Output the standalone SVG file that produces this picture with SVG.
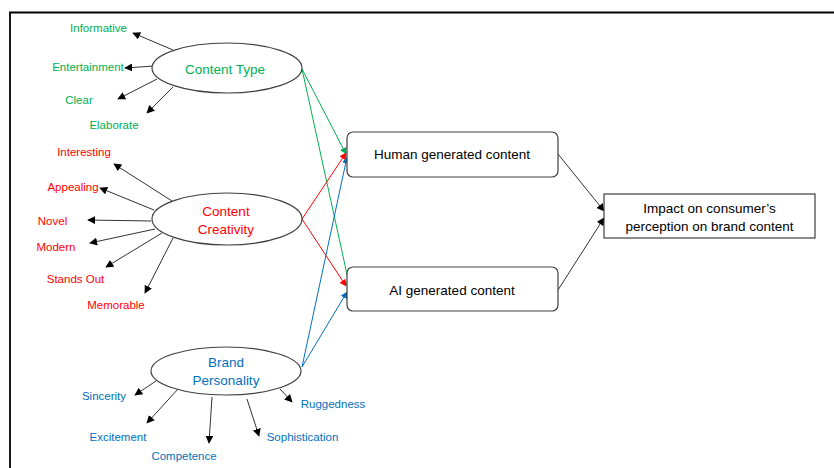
<svg xmlns="http://www.w3.org/2000/svg" width="834" height="468" viewBox="0 0 834 468">
<defs>
<marker id="ab" viewBox="0 0 10 10" refX="9" refY="5" markerWidth="8" markerHeight="8" markerUnits="userSpaceOnUse" orient="auto"><path d="M0,0 L10,5 L0,10 z" fill="#000"/></marker>
<marker id="ag" viewBox="0 0 10 10" refX="9" refY="5" markerWidth="7" markerHeight="7" markerUnits="userSpaceOnUse" orient="auto"><path d="M0,0 L10,5 L0,10 z" fill="#00B050"/></marker>
<marker id="ar" viewBox="0 0 10 10" refX="9" refY="5" markerWidth="7" markerHeight="7" markerUnits="userSpaceOnUse" orient="auto"><path d="M0,0 L10,5 L0,10 z" fill="#FF0000"/></marker>
<marker id="abl" viewBox="0 0 10 10" refX="9" refY="5" markerWidth="7" markerHeight="7" markerUnits="userSpaceOnUse" orient="auto"><path d="M0,0 L10,5 L0,10 z" fill="#0070C0"/></marker>
</defs>
<style>
text{font-family:"Liberation Sans",Arial,sans-serif;text-anchor:middle}
.s{font-size:11.5px}
.m{font-size:13.5px}
.g{fill:#00B050}.r{fill:#FF0000}.b{fill:#0070C0}.k{fill:#000}
.el{fill:#fff;stroke:#404040;stroke-width:1.2}
.bx{fill:#fff;stroke:#404040;stroke-width:1.2}
.blk{stroke:#333;stroke-width:1;fill:none;marker-end:url(#ab)}
.gl{stroke:#00B050;stroke-width:1;fill:none;marker-end:url(#ag)}
.rl{stroke:#FF0000;stroke-width:1;fill:none;marker-end:url(#ar)}
.bl{stroke:#0070C0;stroke-width:1;fill:none;marker-end:url(#abl)}
</style>
<rect width="834" height="468" fill="#fff"/>
<path d="M10,468 V12.5 H834" fill="none" stroke="#000" stroke-width="1.8"/>
<g id="connectors">
<line class="blk" x1="173" y1="50" x2="133" y2="33"/>
<line class="blk" x1="154" y1="66" x2="125" y2="68"/>
<line class="blk" x1="157" y1="79" x2="118" y2="99"/>
<line class="blk" x1="173" y1="87" x2="147" y2="113"/>
<line class="blk" x1="172" y1="201" x2="114" y2="164"/>
<line class="blk" x1="154" y1="210" x2="100" y2="188"/>
<line class="blk" x1="151" y1="221" x2="88" y2="220"/>
<line class="blk" x1="155" y1="229" x2="90" y2="243"/>
<line class="blk" x1="162" y1="233" x2="106" y2="267"/>
<line class="blk" x1="173" y1="238" x2="145" y2="293"/>
<line class="blk" x1="156" y1="381" x2="135" y2="395"/>
<line class="blk" x1="178" y1="389" x2="147" y2="423"/>
<line class="blk" x1="212" y1="397" x2="209" y2="443"/>
<line class="blk" x1="247" y1="399" x2="259" y2="436"/>
<line class="blk" x1="280" y1="389" x2="292" y2="402"/>
<line class="gl" x1="302" y1="69" x2="346" y2="154"/>
<line class="gl" x1="302" y1="69" x2="350" y2="288"/>
<line class="rl" x1="302" y1="219" x2="346" y2="153"/>
<line class="rl" x1="302" y1="219" x2="346" y2="286"/>
<line class="bl" x1="302" y1="367" x2="347" y2="157"/>
<line class="bl" x1="302" y1="367" x2="347" y2="292"/>
<line class="blk" x1="558" y1="154" x2="604" y2="211"/>
<line class="blk" x1="558" y1="290" x2="604" y2="218"/>
</g>
<g id="content-type"><ellipse class="el" cx="227" cy="68" rx="75" ry="25"/><text class="m g" x="225" y="73.5">Content Type</text></g>
<g id="content-creativity"><ellipse class="el" cx="227" cy="219" rx="75" ry="26"/><text class="m r" x="226" y="215.5">Content</text><text class="m r" x="226" y="233.5">Creativity</text></g>
<g id="brand-personality"><ellipse class="el" cx="226" cy="371" rx="75" ry="24"/><text class="m b" x="226" y="366.5">Brand</text><text class="m b" x="226" y="384.5">Personality</text></g>
<g id="human"><rect class="bx" x="347" y="132" width="211" height="45" rx="6"/><text class="m k" x="452" y="159">Human generated content</text></g>
<g id="ai"><rect class="bx" x="347" y="267" width="211" height="44" rx="6"/><text class="m k" x="452" y="294.5">AI generated content</text></g>
<g id="impact"><rect class="bx" x="604" y="194" width="211" height="44"/><text class="m k" x="709.5" y="212.5">Impact on consumer’s</text><text class="m k" x="709.5" y="230.5">perception on brand content</text></g>
<g id="labels-type">
<text class="s g" x="98.5" y="32">Informative</text>
<text class="s g" x="88" y="71">Entertainment</text>
<text class="s g" x="79" y="104">Clear</text>
<text class="s g" x="114" y="129">Elaborate</text>
</g>
<g id="labels-creativity">
<text class="s r" x="84" y="156">Interesting</text>
<text class="s r" x="73" y="191">Appealing</text>
<text class="s r" x="52.5" y="225">Novel</text>
<text class="s r" x="56" y="251">Modern</text>
<text class="s r" x="75.5" y="283">Stands Out</text>
<text class="s r" x="116" y="309">Memorable</text>
</g>
<g id="labels-personality">
<text class="s b" x="104" y="400">Sincerity</text>
<text class="s b" x="118" y="441">Excitement</text>
<text class="s b" x="184" y="460">Competence</text>
<text class="s b" x="302.5" y="441">Sophistication</text>
<text class="s b" x="333" y="408">Ruggedness</text>
</g>
</svg>
